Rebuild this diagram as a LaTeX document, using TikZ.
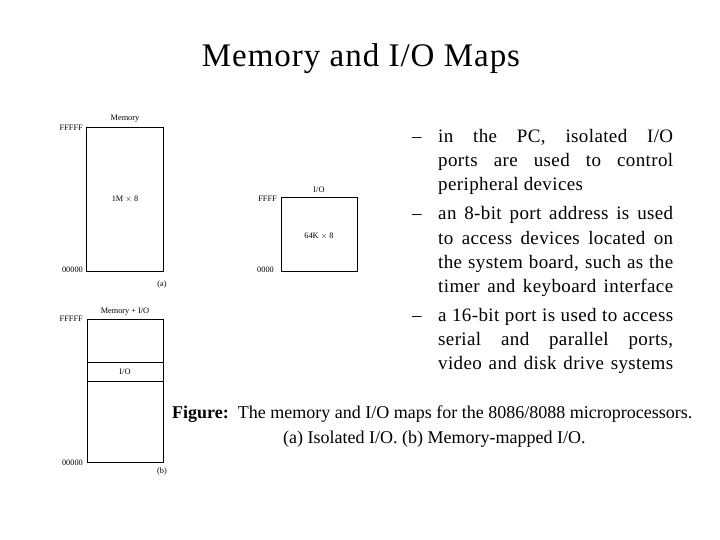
\documentclass[tikz,border=0pt]{standalone}
\usepackage{fontspec}
\setmainfont{Liberation Serif}
\newfontfamily\bulletfont[LetterSpace=2]{Liberation Serif}
\newfontfamily\titlefont[LetterSpace=3]{Liberation Serif}
\newcommand{\jline}[1]{\makebox[235pt][s]{#1}}
\begin{document}
\begin{tikzpicture}[x=1pt,y=-1pt,
  box/.style={draw,line width=1pt},
  small/.style={font=\fontsize{8.3}{9}\selectfont,inner sep=0pt},
  bline/.style={anchor=base west,inner sep=0pt,font=\bulletfont\fontsize{19}{22}\selectfont},
  capline/.style={anchor=base west,inner sep=0pt,font=\fontsize{18}{22}\selectfont}]
\useasboundingbox (0,0) rectangle (720,540);
\node[anchor=base,inner sep=0pt,font=\titlefont\fontsize{33}{38}\selectfont] (title) at (361,67) {Memory and I/O Maps};
% (a) memory
\node[box,minimum width=77pt,minimum height=143pt,inner sep=0pt] (mem) at (124.5,199.5) {};
\node[small] (memlbl) at (125,119) {Memory};
\node[small] (memtxt) at (125,199) {1M $\times$ 8};
\node[small,anchor=east] (mf) at (83,128) {FFFFF};
\node[small,anchor=east] (m0) at (83,270) {00000};
\node[small] (la) at (162,285) {(a)};
% I/O
\node[box,minimum width=76pt,minimum height=73pt,inner sep=0pt] (io) at (319,234.5) {};
\node[small] (iolbl) at (319,190) {I/O};
\node[small] (iotxt) at (319,236) {64K $\times$ 8};
\node[small,anchor=east] (iof) at (277,199) {FFFF};
\node[small,anchor=east] (io0) at (274,270) {0000};
% (b)
\node[box,minimum width=76pt,minimum height=143pt,inner sep=0pt] (mio) at (125,390.5) {};
\coordinate (d1l) at (87,362); \coordinate (d1r) at (163,362);
\coordinate (d2l) at (87,381); \coordinate (d2r) at (163,381);
\draw[line width=1pt] (d1l) -- (d1r) (d2l) -- (d2r);
\node[small] (miolbl) at (125,312) {Memory + I/O};
\node[small] (miotxt) at (125,371.5) {I/O};
\node[small,anchor=east] (mif) at (83,319) {FFFFF};
\node[small,anchor=east] (mi0) at (83,463) {00000};
\node[small] (lb) at (162,472) {(b)};
% bullets
\node[bline] (d1) at (412,143) {–};
\node[bline] (b1a) at (438,143) {\jline{in the PC, isolated I/O}};
\node[bline] (b1b) at (438,167) {\jline{ports are used to control}};
\node[bline] (b1c) at (438,191) {peripheral devices};
\node[bline] (d2) at (412,220) {–};
\node[bline] (b2a) at (438,220) {\jline{an 8-bit port address is used}};
\node[bline] (b2b) at (438,244) {\jline{to access devices located on}};
\node[bline] (b2c) at (438,268) {\jline{the system board, such as the}};
\node[bline] (b2d) at (438,292) {\jline{timer and keyboard interface}};
\node[bline] (d3) at (412,321) {–};
\node[bline] (b3a) at (438,321) {\jline{a 16-bit port is used to access}};
\node[bline] (b3b) at (438,345) {\jline{serial and parallel ports,}};
\node[bline] (b3c) at (438,369) {\jline{video and disk drive systems}};
% caption
\node[capline] (cap1) at (172,418) {\textbf{Figure:}\ \ The memory and I/O maps for the 8086/8088 microprocessors.};
\node[capline] (cap2) at (283,443) {(a) Isolated I/O. (b) Memory-mapped I/O.};
\end{tikzpicture}
\end{document}
